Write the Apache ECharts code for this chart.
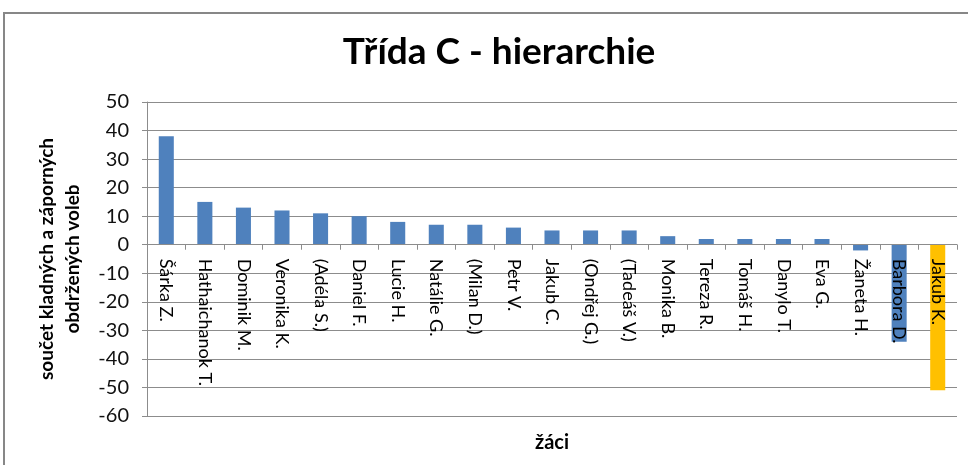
<!DOCTYPE html>
<html>
<head>
<meta charset="utf-8">
<script src="https://cdn.jsdelivr.net/npm/echarts@6/dist/echarts.min.js"></script>
<style>
html,body{margin:0;padding:0;background:#fff;}
#chart{width:968px;height:465px;}
</style>
</head>
<body>
<div id="chart"></div>
<script>
const categories = ["Šárka Z.","Hathaichanok T.","Dominik M.","Veronika K.","(Adéla S.)","Daniel F.","Lucie H.","Natálie G.","(Milan D.)","Petr V.","Jakub C.","(Ondřej G.)","(Tadeáš V.)","Monika B.","Tereza R.","Tomáš H.","Danylo T.","Eva G.","Žaneta H.","Barbora D.","Jakub K."];
const values = [38,15,13,12,11,10,8,7,7,6,5,5,5,3,2,2,2,2,-2,-34,-51];
const highlighted = ["Jakub K."];
const titleText = "Třída C - hierarchie";
const yAxisTitle = "součet kladných a záporných\nobdržených voleb";
const xAxisTitle = "žáci";
const yMin = -60, yMax = 50, yStep = 10;

const BLUE = "#4F81BD", ORANGE = "#FFC000";
const FONT = "Lato, 'Open Sans', sans-serif";

const GRID_TOP = 102, GRID_BOTTOM_Y = 416;
// shift category axis up to the zero line
const zeroOffset = -(GRID_BOTTOM_Y - GRID_TOP) * (0 - yMin) / (yMax - yMin);

const chart = echarts.init(document.getElementById('chart'), null, {renderer:'canvas'});
chart.setOption({
  backgroundColor:'#fff',
  animation:false,
  title:{
    text:titleText, left:494, top:29, textAlign:'center',
    textStyle:{fontFamily:FONT, fontSize:37, fontWeight:'bold', color:'#000'}
  },
  graphic:[{
    type:'rect', shape:{x:4,y:13,width:1000,height:500},
    style:{fill:'none', stroke:'#878787', lineWidth:2}, z:-1
  }],
  grid:{left:147, right:11, top:GRID_TOP, bottom:465-GRID_BOTTOM_Y, containLabel:false, outerBoundsMode:'none'},
  xAxis:{
    type:'category', data:categories, z:5, offset:zeroOffset,
    axisLine:{onZero:false, lineStyle:{color:'#8c8c8c', width:1}},
    axisTick:{show:true, length:5, lineStyle:{color:'#8c8c8c'}},
    axisLabel:{rotate:-90, margin:14, interval:0, color:'#000', fontFamily:FONT, fontSize:18},
    name:xAxisTitle, nameLocation:'middle', nameGap:188,
    nameTextStyle:{fontFamily:FONT, fontSize:20, fontWeight:'bold', color:'#000'}
  },
  yAxis:{
    type:'value', min:yMin, max:yMax, interval:yStep,
    axisLine:{show:true, lineStyle:{color:'#8c8c8c'}},
    axisTick:{show:true, length:5, lineStyle:{color:'#8c8c8c'}},
    axisLabel:{margin:18, color:'#111', fontFamily:FONT, fontSize:20, showMinLabel:true, showMaxLabel:true},
    splitLine:{show:true, lineStyle:{color:'#8c8c8c', width:1}},
    name:yAxisTitle, nameLocation:'middle', nameGap:61, nameRotate:90,
    nameTextStyle:{fontFamily:FONT, fontSize:19, fontWeight:'bold', color:'#000', lineHeight:26, align:'center'}
  },
  series:[{
    type:'bar', barWidth:'39%',
    data: values.map((v,i)=>({value:v, itemStyle:{color: highlighted.includes(categories[i]) ? ORANGE : BLUE}}))
  }]
});
</script>
</body>
</html>
